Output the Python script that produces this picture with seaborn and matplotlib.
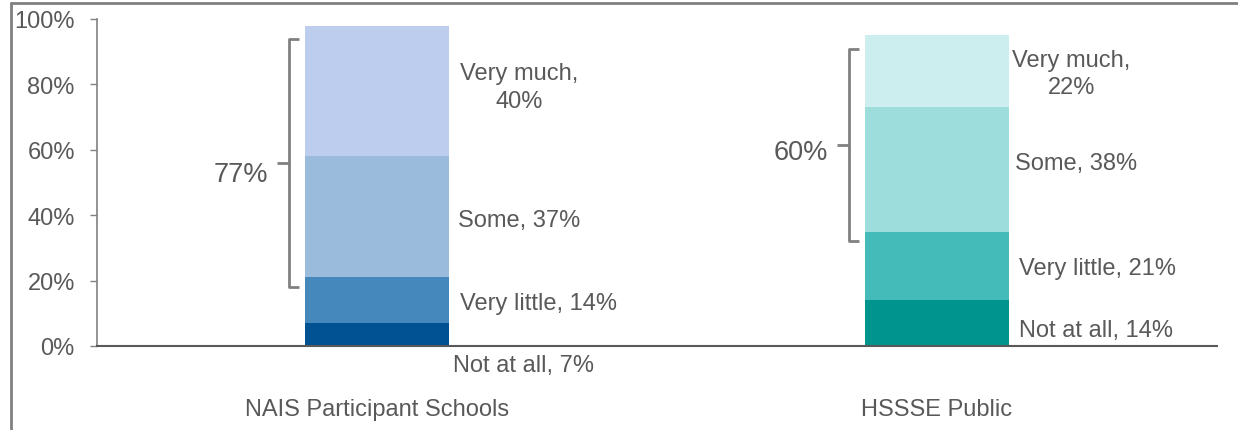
import matplotlib
matplotlib.use('Agg')
import matplotlib.pyplot as plt
import seaborn as sns
import numpy as np
from matplotlib.lines import Line2D

# data
schools = ["NAIS Participant Schools", "HSSSE Public"]
levels = ["Not at all", "Very little", "Some", "Very much"]
nais = [7, 14, 37, 40]
hssse = [14, 21, 38, 22]
bracket_labels = ["77%", "60%"]
nais_colors = ["#005293", "#4588BC", "#9BBBDD", "#BCCDEE"]
hssse_colors = ["#00948F", "#44BBB9", "#9DDEDD", "#CDEEEE"]

grey = "#595959"
fs = 17
sns.set_style("white")
plt.rcParams['font.family'] = ['Liberation Sans', 'DejaVu Sans']

fig = plt.figure(figsize=(12.38, 4.31), dpi=100)
ax = fig.add_axes([0.0784, 0.1949, 0.9046, 0.7587])

# stacked bars: draw cumulative totals from the top layer down
cum_nais = np.cumsum(nais)
cum_hssse = np.cumsum(hssse)
for i in reversed(range(len(levels))):
    sns.barplot(x=schools, y=[cum_nais[i], cum_hssse[i]], hue=schools,
                palette=[nais_colors[i], hssse_colors[i]], dodge=False,
                saturation=1, width=0.256, linewidth=0, legend=False, ax=ax)

ax.set_xlim(-0.5, 1.5)
ax.set_ylim(0, 100)
ax.set_yticks(range(0, 101, 20))
ax.set_yticklabels([f"{v}%" for v in range(0, 101, 20)])
ax.set_xticks([0, 1])
ax.set_xticklabels(schools)
ax.set_xticks([-0.5, 0.5, 1.5], minor=True)
ax.tick_params(axis='x', which='major', length=0, pad=37.5, labelsize=fs, labelcolor=grey)
ax.tick_params(axis='x', which='minor', length=5, width=1, color="#808080", direction='out')
ax.tick_params(axis='y', length=5, width=1, color="#808080", pad=11, labelsize=fs,
               labelcolor=grey, left=True)
ax.set_xlabel("")
ax.set_ylabel("")
for s in ["top", "right"]:
    ax.spines[s].set_visible(False)
ax.spines["left"].set_color("#808080")
ax.spines["bottom"].set_color(grey)
ax.spines["left"].set_linewidth(1.2)
ax.spines["bottom"].set_linewidth(1.5)

# segment labels
def seg_labels(xc, vals, spots):
    for lvl, v, (dx, y, ha) in zip(levels, vals, spots):
        txt = f"{lvl}, {v}%" if lvl != "Very much" else f"{lvl},\n{v}%"
        ax.text(xc + dx, y, txt, ha=ha, va='center', fontsize=fs, color=grey,
                linespacing=1.3, multialignment='center', clip_on=False)

seg_labels(0, nais, [(0.135, -5.8, 'left'), (0.149, 13.2, 'left'),
                     (0.144, 38.5, 'left'), (0.253, 79.2, 'center')])
seg_labels(1, hssse, [(0.146, 4.9, 'left'), (0.147, 23.9, 'left'),
                      (0.140, 56.0, 'left'), (0.240, 83.4, 'center')])

# brackets
def bracket(xc, y0, y1, ym, label, ty):
    xv = xc - 0.158
    kw = dict(color="#808080", lw=2, solid_capstyle='butt', clip_on=False)
    ax.plot([xv + 0.018, xv, xv, xv + 0.018], [y1, y1, y0, y0], **kw)
    ax.plot([xv - 0.02, xv], [ym, ym], **kw)
    ax.text(xc - 0.194, ty, label, ha='right', va='center', fontsize=19.5, color=grey)

bracket(0, 18.0, 93.9, 56.0, bracket_labels[0], 52.6)
bracket(1, 32.1, 90.8, 61.5, bracket_labels[1], 59.3)

# frame lines of the original slide
fig.add_artist(Line2D([0.0089, 1.0], [0.9907, 0.9907], color="#808080", lw=2))
fig.add_artist(Line2D([0.0089, 0.0089], [0.0, 0.9907], color="#808080", lw=2))

fig.savefig("out.png", dpi=100)
